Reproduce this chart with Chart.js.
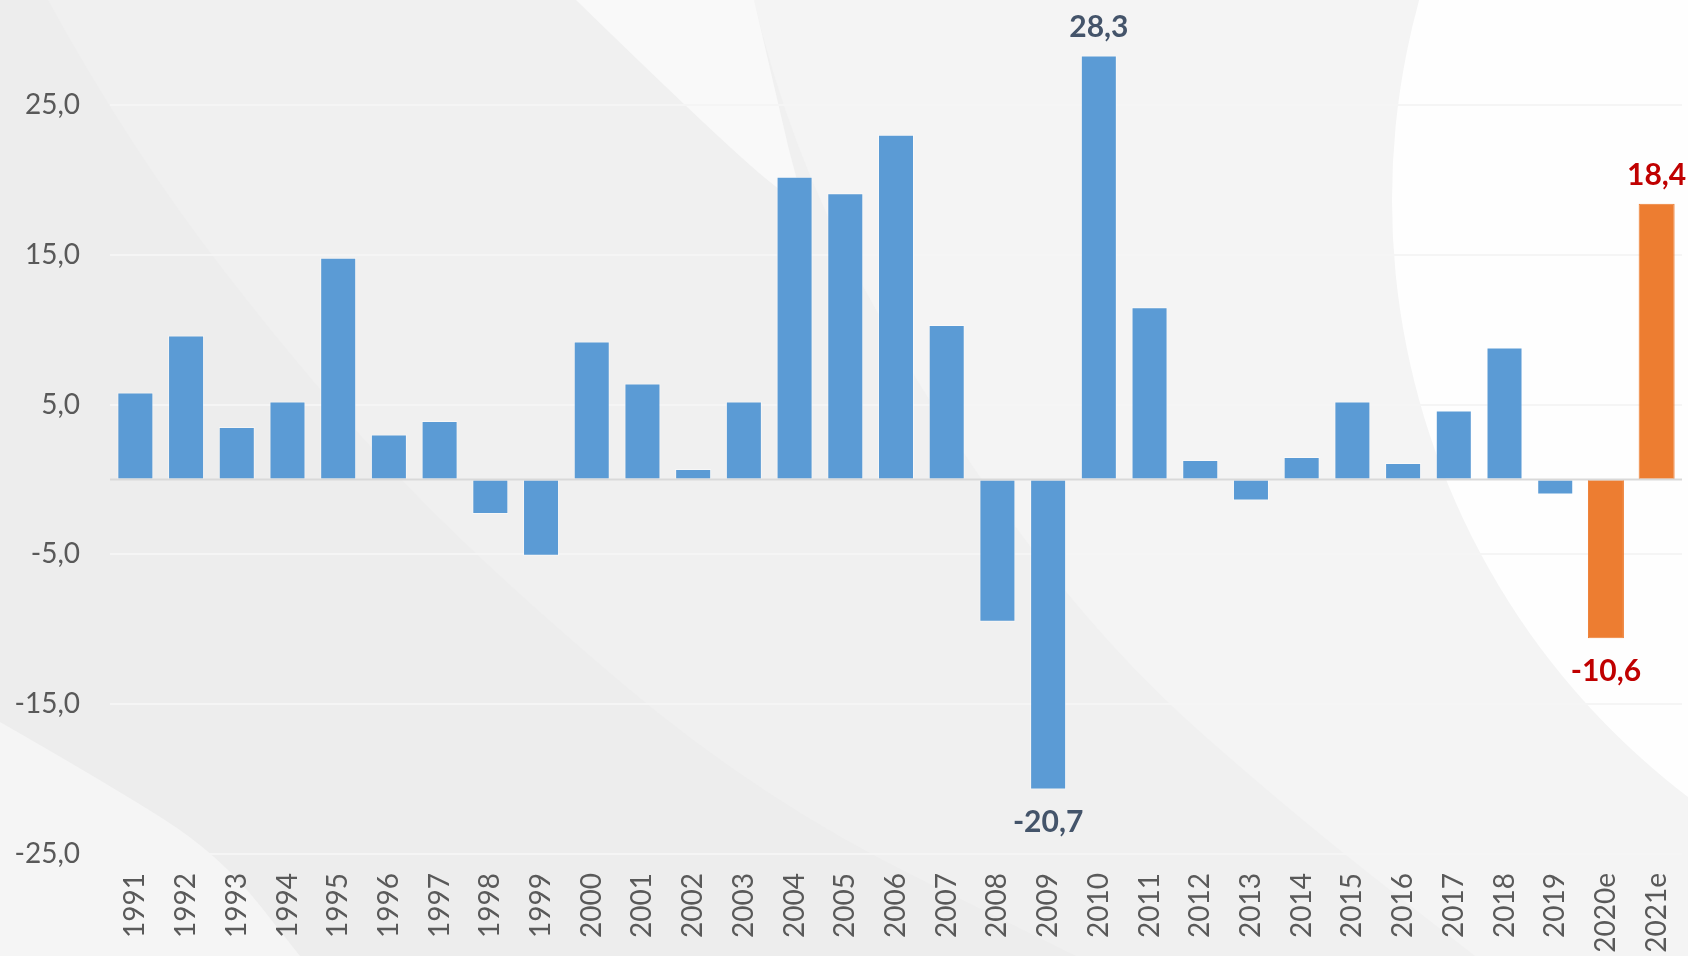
<!DOCTYPE html>
<html>
<head>
<meta charset="utf-8">
<script src="https://cdn.jsdelivr.net/npm/chart.js@4"></script>
<style>
    html, body { margin: 0; padding: 0; background: #eeeeee; overflow: hidden; }
    #wrap { width: 1688px; height: 956px; position: relative; }
</style>
</head>
<body>
<div id="wrap"><canvas id="growthChart"></canvas></div>
<script>
// Years on the x axis ("e" = estimate)
const years = ['1991', '1992', '1993', '1994', '1995', '1996', '1997', '1998', '1999', '2000',
    '2001', '2002', '2003', '2004', '2005', '2006', '2007', '2008', '2009', '2010',
    '2011', '2012', '2013', '2014', '2015', '2016', '2017', '2018', '2019', '2020e', '2021e'];

// Yearly change, %
const growth = [5.8, 9.6, 3.5, 5.2, 14.8, 3.0, 3.9, -2.3, -5.1, 9.2,
    6.4, 0.7, 5.2, 20.2, 19.1, 23.0, 10.3, -9.5, -20.7, 28.3,
    11.5, 1.3, -1.4, 1.5, 5.2, 1.1, 4.6, 8.8, -1.0, -10.6, 18.4];

// Tick labels shown on the y axis
const yTicks = [-25, -15, -5, 5, 15, 25];

// Bars that get a value label
const labelledYears = ['2009', '2010', '2020e', '2021e'];

const isEstimate = year => year.endsWith('e');
const fmt = v => v.toFixed(1).replace('.', ',');

// smooth path through a list of points
function smoothPath(ctx, pts) {
    ctx.moveTo(pts[0][0], pts[0][1]);
    for (let i = 1; i < pts.length - 1; i++) {
        const mx = (pts[i][0] + pts[i + 1][0]) / 2;
        const my = (pts[i][1] + pts[i + 1][1]) / 2;
        ctx.quadraticCurveTo(pts[i][0], pts[i][1], mx, my);
    }
    const last = pts[pts.length - 1];
    ctx.lineTo(last[0], last[1]);
}

// Decorative light swooshes behind the chart
const backgroundPlugin = {
    id: 'background',
    beforeDraw(chart) {
        const ctx = chart.ctx;
        const w = chart.width, h = chart.height;
        ctx.save();
        ctx.fillStyle = '#ededed';
        ctx.fillRect(0, 0, w, h);

        ctx.fillStyle = '#f0f0f0';
        ctx.beginPath();
        smoothPath(ctx, [[48, 0], [130, 150], [322, 397], [488, 570], [760, 800], [1076, 956]]);
        ctx.lineTo(w, h); ctx.lineTo(w, 0); ctx.closePath();
        ctx.fill();

        ctx.fillStyle = '#f4f4f4';
        ctx.beginPath();
        smoothPath(ctx, [[754, 0], [789, 150], [934, 417], [1107, 650], [1300, 820], [1475, 956]]);
        ctx.lineTo(w, h); ctx.lineTo(w, 0); ctx.closePath();
        ctx.fill();

        ctx.fillStyle = '#f9f9f9';
        ctx.beginPath();
        smoothPath(ctx, [[576, 0], [730, 150], [805, 210]]);
        ctx.lineTo(789, 150); ctx.lineTo(754, 0); ctx.closePath();
        ctx.fill();

        ctx.fillStyle = '#f5f5f5';
        ctx.beginPath();
        smoothPath(ctx, [[0, 722], [110, 785], [220, 855], [300, 956]]);
        ctx.lineTo(0, h); ctx.closePath();
        ctx.fill();

        ctx.fillStyle = '#fefefe';
        ctx.beginPath();
        ctx.arc(2142, 200, 750, 0, Math.PI * 2);
        ctx.fill();
        ctx.restore();
    }
};

// Zero line across the plot
const zeroLinePlugin = {
    id: 'zeroLine',
    afterDatasetsDraw(chart) {
        const ctx = chart.ctx;
        const area = chart.chartArea;
        const y0 = chart.scales.y.getPixelForValue(0);
        ctx.save();
        ctx.strokeStyle = '#d9d9d9';
        ctx.lineWidth = 2;
        ctx.beginPath();
        ctx.moveTo(area.left, y0);
        ctx.lineTo(area.right, y0);
        ctx.stroke();
        ctx.restore();
    }
};

// Value labels for selected bars
const valueLabelPlugin = {
    id: 'valueLabels',
    afterDraw(chart) {
        const ctx = chart.ctx;
        const meta = chart.getDatasetMeta(0);
        ctx.save();
        ctx.font = 'bold 30px Lato';
        ctx.textAlign = 'center';
        years.forEach((year, i) => {
            if (!labelledYears.includes(year)) return;
            const bar = meta.data[i];
            const v = growth[i];
            ctx.fillStyle = isEstimate(year) ? '#c00000' : '#44546a';
            if (v >= 0) {
                ctx.textBaseline = 'bottom';
                ctx.fillText(fmt(v), bar.x, bar.y - 13);
            } else {
                ctx.textBaseline = 'top';
                ctx.fillText(fmt(v), bar.x, bar.y + 18);
            }
        });
        ctx.restore();
    }
};

const ctxGrowth = document.getElementById('growthChart').getContext('2d');
const growthChart = new Chart(ctxGrowth, {
    type: 'bar',
    data: {
        labels: years,
        datasets: [{
            data: growth,
            backgroundColor: years.map(y => isEstimate(y) ? '#ed7d31' : '#5b9bd5'),
            borderColor: years.map(y => isEstimate(y) ? '#ed7d31' : 'rgba(255, 255, 255, 0.45)'),
            borderWidth: 1,
            borderSkipped: false,
            barPercentage: 0.71,
            categoryPercentage: 1
        }]
    },
    options: {
        responsive: true,
        maintainAspectRatio: false,
        animation: false,
        layout: { padding: { top: 0, right: 6, bottom: 0, left: 0 } },
        plugins: {
            legend: { display: false },
            tooltip: { enabled: false }
        },
        scales: {
            x: {
                grid: { display: false },
                border: { display: false },
                ticks: {
                    minRotation: 90,
                    maxRotation: 90,
                    padding: 11,
                    color: '#595959',
                    font: { family: 'Lato', size: 28 }
                },
                afterFit: scale => {
                    scale.height = 102;
                    scale.paddingLeft = 0;
                    scale.paddingRight = 0;
                }
            },
            y: {
                min: -25,
                max: 32,
                grid: { color: '#f5f5f5', lineWidth: 2, drawTicks: false },
                border: { display: false },
                ticks: {
                    padding: 30,
                    color: '#595959',
                    font: { family: 'Lato', size: 28 },
                    callback: value => fmt(value)
                },
                afterBuildTicks: scale => { scale.ticks = yTicks.map(v => ({ value: v })); },
                afterFit: scale => {
                    scale.width = 110;
                    scale.paddingTop = 0;
                    scale.paddingBottom = 0;
                }
            }
        }
    },
    plugins: [backgroundPlugin, zeroLinePlugin, valueLabelPlugin]
});
</script>
</body>
</html>
